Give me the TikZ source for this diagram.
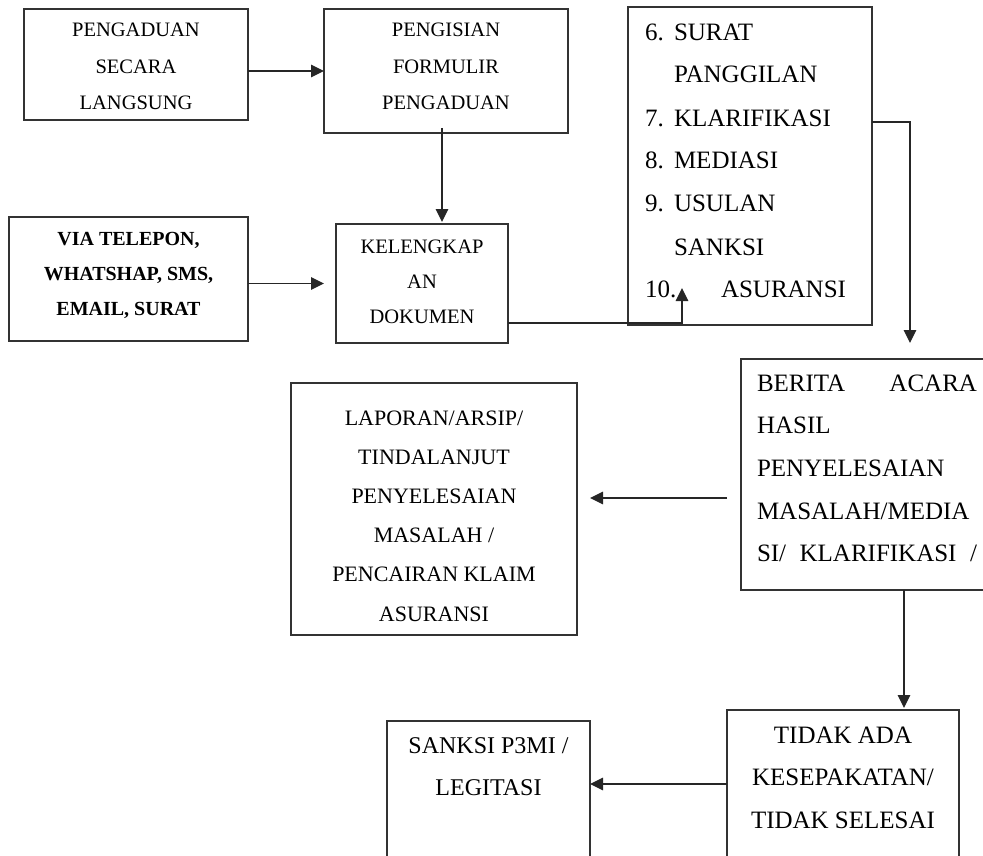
\documentclass[tikz,border=0pt]{standalone}
\usepackage{fontspec}
\setmainfont{Liberation Serif}
\usetikzlibrary{arrows.meta,calc}
% box text: height, width, setup, first baseline, lines
\newcommand{\inbox}[5]{\parbox[c][#1][t]{#2}{#3\rule{0pt}{#4}#5}}

\begin{document}
\begin{tikzpicture}[x=1pt,y=-1pt,>={Triangle[length=13pt,width=12.5pt]},
  bx/.style={draw=black!80,line width=1.4pt,inner sep=0pt,outer sep=0pt},
  ar/.style={->,draw=black!85,line width=1.3pt}]
\useasboundingbox (0,0) rectangle (983,856);

% ===== intake =====
\node[bx] (direct) at (136,64.5){\inbox{111pt}{224pt}{\centering\fontsize{20.5}{36.5}\selectfont}{28pt}{PENGADUAN\\SECARA\\LANGSUNG}};
\node[bx] (form) at (446,71){\inbox{124pt}{244pt}{\centering\fontsize{20.5}{36.5}\selectfont}{28pt}{PENGISIAN\\FORMULIR\\PENGADUAN}};
\node[bx] (remote) at (128.5,279){\inbox{124pt}{239pt}{\centering\bfseries\fontsize{20}{35}\selectfont}{28pt}{VIA TELEPON,\\WHATSHAP, SMS,\\EMAIL, SURAT}};
\node[bx] (docs) at (422,283.5){\inbox{119pt}{172pt}{\centering\fontsize{20.5}{35}\selectfont}{29pt}{KELENGKAP\\AN\\DOKUMEN}};

% ===== process steps =====
\node[bx] (steps) at (750,166){\inbox{318pt}{244pt}{\raggedright\leftskip=17pt\fontsize{25}{43}\selectfont}{33pt}{%
  \makebox[29pt][l]{6.}SURAT\\
  \hspace*{29pt}PANGGILAN\\
  \makebox[29pt][l]{7.}KLARIFIKASI\\
  \makebox[29pt][l]{8.}MEDIASI\\
  \makebox[29pt][l]{9.}USULAN\\
  \hspace*{29pt}SANKSI\\
  \makebox[76pt][l]{10.}ASURANSI}};

% ===== outcomes =====
\node[bx] (minutes) at (868,474.5){\inbox{231pt}{254pt}{\leftskip=16pt\rightskip=18pt\parindent=0pt\fontsize{25}{42.7}\selectfont}{32pt}{%
  BERITA\hfill ACARA\\HASIL\\PENYELESAIAN\\MASALAH/MEDIA\\SI/\hfill KLARIFIKASI\hfill /}};
\node[bx] (report) at (434,509){\inbox{252pt}{286pt}{\centering\fontsize{22}{39.2}\selectfont}{42pt}{LAPORAN/ARSIP/\\TINDALANJUT\\PENYELESAIAN\\MASALAH /\\PENCAIRAN KLAIM\\ASURANSI}};
\node[bx] (nodeal) at (843,792.5){\inbox{165pt}{232pt}{\centering\fontsize{25}{42.5}\selectfont}{33pt}{TIDAK ADA\\KESEPAKATAN/\\TIDAK SELESAI}};
\node[bx] (sanction) at (488.5,798){\inbox{154pt}{203pt}{\centering\fontsize{24}{42}\selectfont}{32pt}{SANKSI P3MI /\\LEGITASI}};

% ===== connectors =====
\coordinate (c1) at ([xshift=-4pt]form.south);
\coordinate (c2) at ([xshift=54pt,yshift=37pt]steps.south west);
\coordinate (c3) at ([xshift=169pt,yshift=16pt]minutes.north west);
\coordinate (c5) at ([xshift=61pt]nodeal.north);
\draw[ar] (form.west -| direct.east) -- (form.west);
\draw[ar,shorten >=2pt] ([yshift=5pt]c1) -- (c1 |- docs.north);
\draw[ar,shorten >=12pt] (docs.west -| remote.east) -- (docs.west);
\draw[ar] ([yshift=20pt]docs.south east) -| (c2);
\draw[ar] ([yshift=-115pt]steps.north east) -| (c3);
\draw[ar,shorten <=14pt,shorten >=13pt] ([yshift=-23.5pt]minutes.west) coordinate (c4) -- (c4 -| report.east);
\draw[ar,shorten >=2pt] (minutes.south -| c5) -- (c5);
\draw[ar] ([yshift=8.5pt]nodeal.west) coordinate (c6) -- (c6 -| sanction.east);
\end{tikzpicture}
\end{document}
